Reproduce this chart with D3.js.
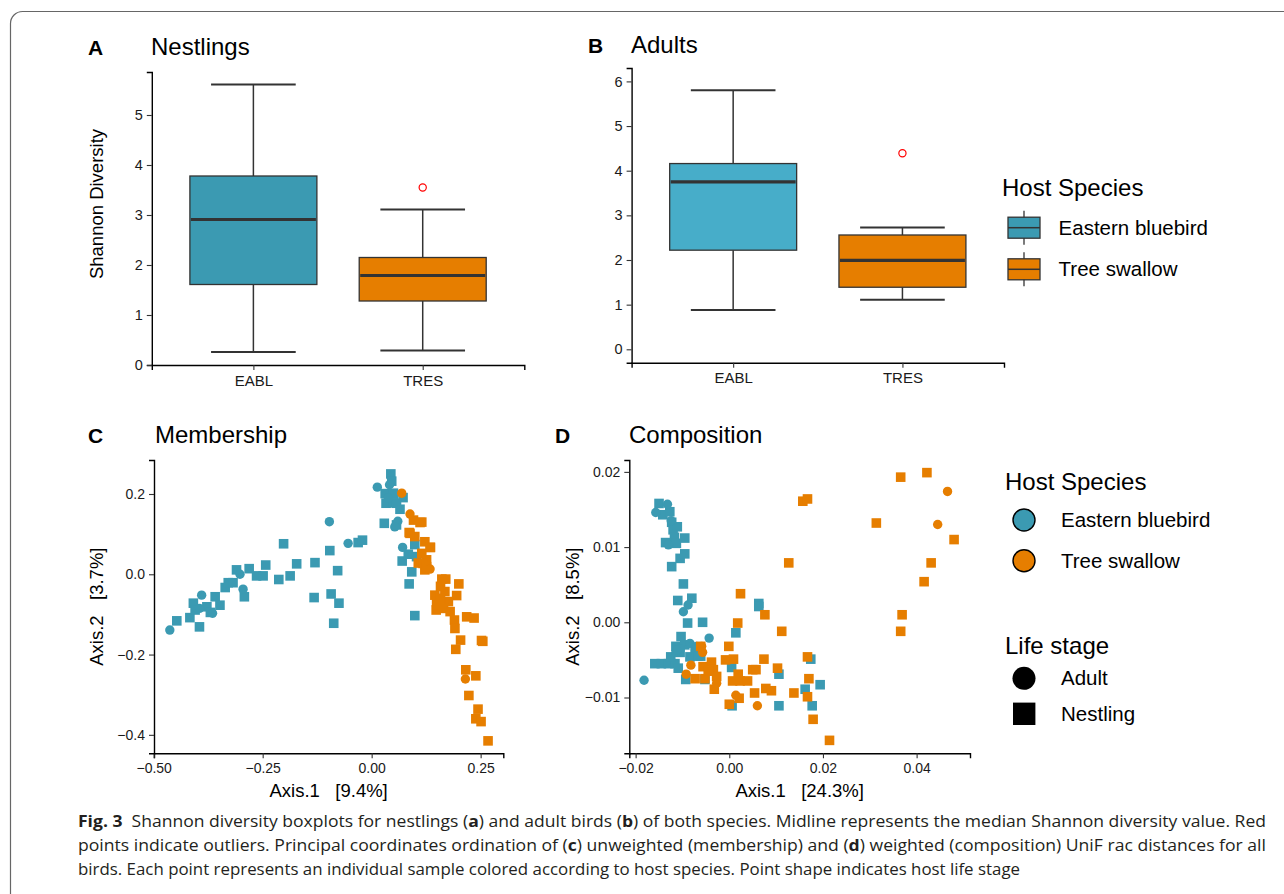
<!DOCTYPE html>
<html>
<head>
<meta charset="utf-8">
<script src="https://cdn.jsdelivr.net/npm/d3@7"></script>
<style>
  body { margin: 0; background: #fff; }
  svg { display: block; font-family: "Liberation Sans", Arial, Helvetica, sans-serif; }
</style>
</head>
<body>
<svg id="fig" width="1284" height="894"></svg>
<script>
// ---- data ----
const boxSpecies = ["EABL", "TRES"];
// [low whisker, Q1, median, Q3, high whisker]
const nestlingStats = [[0.26, 1.61, 2.91, 3.78, 5.61], [0.29, 1.28, 1.79, 2.15, 3.11]];
const nestlingOutliers = [[], [3.55]];
const adultStats = [[0.88, 2.22, 3.75, 4.16, 5.80], [1.11, 1.39, 1.99, 2.56, 2.73]];
const adultOutliers = [[], [4.39]];

const hostLabels = ["Eastern bluebird", "Tree swallow"];
const stageLabels = ["Adult", "Nestling"];

// membership (unweighted) PCoA
const memEablAdult = [[-0.463,-0.139],[-0.39,-0.052],[-0.395,-0.085],[-0.365,-0.097],[-0.302,0.0],[-0.295,-0.037],
  [-0.097,0.131],[-0.054,0.077],[0.013,0.217],[0.041,0.223],[0.06,0.132],[0.053,0.118],[0.071,0.067],[0.038,0.19]];
const memEablNestling = [[-0.447,-0.116],[-0.417,-0.108],[-0.395,-0.131],[-0.409,-0.072],[-0.405,-0.089],[-0.378,-0.081],
  [-0.37,-0.095],[-0.359,-0.056],[-0.348,-0.077],[-0.336,-0.033],[-0.329,-0.021],[-0.318,-0.021],[-0.31,0.011],
  [-0.292,-0.056],[-0.281,0.014],[-0.264,-0.004],[-0.249,-0.004],[-0.243,0.023],[-0.213,-0.013],[-0.202,0.076],
  [-0.187,-0.004],[-0.172,0.026],[-0.132,-0.058],[-0.13,0.029],[-0.096,0.059],[-0.093,-0.049],[-0.087,-0.122],
  [-0.078,0.009],[-0.075,-0.072],[-0.031,0.079],[-0.021,0.085],[0.029,0.127],[0.033,0.177],[0.031,0.201],
  [0.044,0.25],[0.046,0.232],[0.05,0.202],[0.05,0.178],[0.072,0.191],[0.065,0.162],[0.057,0.177],[0.057,0.123],
  [0.07,0.033],[0.092,0.006],[0.086,-0.024],[0.099,0.074],[0.103,0.044],[0.084,0.05],[0.099,-0.103]];
const memTresAdult = [[0.069,0.202],[0.088,0.15],[0.134,0.013],[0.215,-0.261]];
const memTresNestling = [[0.115,0.13],[0.096,0.135],[0.086,0.104],[0.099,0.094],[0.122,0.081],[0.135,0.067],
  [0.115,0.052],[0.126,0.036],[0.107,0.028],[0.122,0.011],[0.161,-0.012],[0.17,-0.012],[0.2,-0.024],[0.145,-0.052],
  [0.168,-0.043],[0.195,-0.053],[0.149,-0.068],[0.176,-0.068],[0.148,-0.089],[0.18,-0.093],[0.19,-0.114],
  [0.191,-0.135],[0.218,-0.106],[0.235,-0.109],[0.204,-0.164],[0.193,-0.187],[0.252,-0.165],[0.255,-0.167],
  [0.216,-0.238],[0.239,-0.253],[0.223,-0.302],[0.244,-0.336],[0.239,-0.36],[0.251,-0.367],[0.267,-0.415],
  [0.158,-0.03],[0.158,-0.06],[0.111,0.129],[0.088,0.102],[0.134,0.067],[0.118,0.027],[0.126,0.019],
  [0.155,-0.075],[0.165,-0.085]];

// composition (weighted) PCoA
const comEablAdult = [[-0.0182,-0.0077],[-0.0157,0.0146],[-0.0132,0.0157],[-0.013,0.0103],[-0.0098,0.0014],
  [-0.0088,0.0023],[-0.0043,-0.0021],[-0.0084,-0.0028],[-0.0105,-0.0035],[-0.0114,-0.004],[-0.0124,0.0135],
  [-0.0112,-0.0037],[-0.007,-0.0032]];
const comEablNestling = [[-0.015,0.0158],[-0.0142,0.0143],[-0.0127,0.0147],[-0.0123,0.0133],[-0.012,0.0123],
  [-0.0111,0.0127],[-0.0117,0.0113],[-0.0136,0.0106],[-0.0113,0.0105],[-0.0095,0.0112],[-0.0123,0.0074],
  [-0.0105,0.0085],[-0.0095,0.0091],[-0.0098,0.0051],[-0.011,0.0029],[-0.008,0.0032],[-0.0089,-0.0001],
  [-0.0057,0.0],[0.0063,0.0025],[0.0063,0.0021],[0.0014,-0.0014],[-0.0103,-0.0019],[-0.0114,-0.0032],
  [-0.0105,-0.004],[-0.0159,-0.0055],[-0.0145,-0.0055],[-0.013,-0.0055],[-0.0116,-0.0055],[-0.0095,-0.003],
  [-0.0073,-0.0037],[-0.0084,-0.0046],[-0.0061,-0.0045],[-0.0109,-0.0061],[-0.0093,-0.0076],[-0.0052,-0.0076],
  [0.0005,-0.006],[0.0106,-0.0069],[0.0162,-0.0089],[0.0174,-0.0049],[0.0194,-0.0083],[0.0177,-0.0111],
  [0.0106,-0.0111],[0.0006,-0.0111],[-0.0067,-0.0045],[-0.0125,-0.0046]];
const comTresAdult = [[-0.0027,-0.0081],[0.0014,-0.0097],[0.006,-0.0111],[0.0445,0.013],[0.0466,0.0174],
  [-0.0059,-0.0032],[-0.0057,-0.004],[-0.0082,-0.0057],[-0.0092,-0.0069]];
const comTresNestling = [[0.0422,0.0199],[0.0366,0.0193],[0.0157,0.0161],[0.0167,0.0164],[0.0314,0.0132],
  [0.048,0.011],[0.0127,0.0079],[0.0431,0.0079],[0.0416,0.0054],[0.0024,0.0038],[0.0076,0.001],[0.0369,0.001],
  [0.0018,-0.0001],[0.0112,-0.0012],[0.0366,-0.0012],[-0.0001,-0.0032],[-0.0008,-0.005],[0.0009,-0.0049],
  [0.0074,-0.0049],[0.0103,-0.0061],[0.0167,-0.0046],[0.017,-0.0075],[0.0167,-0.0099],[0.0179,-0.0129],
  [0.0214,-0.0157],[0.005,-0.0063],[0.0057,-0.0063],[0.0019,-0.0069],[0.0007,-0.0078],[0.0023,-0.0078],
  [0.0039,-0.0078],[0.0054,-0.0094],[0.0078,-0.0088],[0.009,-0.0091],[0.0138,-0.0094],[0.0021,-0.0101],
  [0.0,-0.0109],[-0.0038,-0.0053],[-0.0056,-0.0059],[-0.0034,-0.0063],[-0.0073,-0.0075],[-0.0052,-0.0075],
  [-0.0027,-0.0072],[-0.0032,-0.0089],[-0.0061,-0.0032],[-0.0045,-0.0065]];

const blue = "#3b9ab2", blueLight = "#47adc9", orange = "#e67e00";

const svg = d3.select("#fig");

// outer frame (runs off the right/bottom edge)
svg.append("rect")
  .attr("x", 10.5).attr("y", 11.5).attr("width", 1320).attr("height", 930).attr("rx", 12)
  .attr("fill", "none").attr("stroke", "#666").attr("stroke-width", 1.2);

function styleAxis(g, size) {
  g.attr("font-family", null).attr("font-size", null);
  g.select(".domain").attr("stroke", "#000").attr("stroke-width", 1.4);
  g.selectAll(".tick line").attr("stroke", "#333").attr("stroke-width", 1.1);
  g.selectAll(".tick text").attr("fill", "#1a1a1a").style("font-size", size + "px");
}

function panelTitle(letter, lx, title, tx, y) {
  svg.append("text").attr("x", lx).attr("y", y).text(letter)
    .style("font-size", "21px").style("font-weight", "bold").attr("fill", "#000");
  svg.append("text").attr("x", tx).attr("y", y).text(title)
    .style("font-size", "24px").attr("fill", "#000");
}

function boxPanel(o) {
  const g = svg.append("g");
  const x = d3.scalePoint().domain(boxSpecies).range([o.x0, o.x1]).padding(0.6);
  const y = d3.scaleLinear().domain(o.domain).range([o.yBot, o.yTop]);
  const bw = x.step() * 0.75, cw = x.step() * 0.5;

  boxSpecies.forEach((sp, i) => {
    const [lo, q1, med, q3, hi] = o.stats[i];
    const cx = x(sp);
    const wg = g.append("g").attr("stroke", "#333").attr("stroke-width", 1.5);
    wg.append("line").attr("x1", cx).attr("x2", cx).attr("y1", y(hi)).attr("y2", y(q3));
    wg.append("line").attr("x1", cx).attr("x2", cx).attr("y1", y(q1)).attr("y2", y(lo));
    wg.append("line").attr("x1", cx - cw / 2).attr("x2", cx + cw / 2).attr("y1", y(hi)).attr("y2", y(hi)).attr("stroke-width", 2);
    wg.append("line").attr("x1", cx - cw / 2).attr("x2", cx + cw / 2).attr("y1", y(lo)).attr("y2", y(lo)).attr("stroke-width", 2);
    g.append("rect").attr("x", cx - bw / 2).attr("width", bw)
      .attr("y", y(q3)).attr("height", y(q1) - y(q3))
      .attr("fill", o.fills[i]).attr("stroke", "#333").attr("stroke-width", 1.3);
    g.append("line").attr("x1", cx - bw / 2 + 1).attr("x2", cx + bw / 2 - 1)
      .attr("y1", y(med)).attr("y2", y(med)).attr("stroke", "#333").attr("stroke-width", 3.2);
    o.outliers[i].forEach(v => {
      g.append("circle").attr("cx", cx).attr("cy", y(v)).attr("r", 3.6)
        .attr("fill", "none").attr("stroke", "#f00").attr("stroke-width", 1.2);
    });
  });

  g.append("g").attr("transform", `translate(0,${o.yBot})`)
    .call(d3.axisBottom(x).tickSize(5).tickPadding(5))
    .call(a => styleAxis(a, 15));
  g.append("g").attr("transform", `translate(${o.x0},0)`)
    .call(d3.axisLeft(y).tickValues(o.ticks).tickFormat(d3.format("d")).tickSize(5).tickPadding(4))
    .call(a => styleAxis(a, 14.5));
}

function scatterPanel(o) {
  const g = svg.append("g");
  const x = d3.scaleLinear().domain(o.xDomain).range([o.x0, o.x1]);
  const y = d3.scaleLinear().domain(o.yDomain).range([o.yBot, o.yTop]);
  const s = 9.6, r = 4.7;
  o.groups.forEach(grp => {
    const gg = g.append("g").attr("fill", grp.color);
    if (grp.shape === "square") {
      gg.selectAll("rect").data(grp.pts).join("rect")
        .attr("x", d => x(d[0]) - s / 2).attr("y", d => y(d[1]) - s / 2)
        .attr("width", s).attr("height", s);
    } else {
      gg.selectAll("circle").data(grp.pts).join("circle")
        .attr("cx", d => x(d[0])).attr("cy", d => y(d[1])).attr("r", r);
    }
  });
  g.append("g").attr("transform", `translate(0,${o.yBot})`)
    .call(d3.axisBottom(x).tickValues(o.xTicks).tickFormat(d3.format(o.xFmt)).tickSize(5).tickPadding(5))
    .call(a => styleAxis(a, 14));
  g.append("g").attr("transform", `translate(${o.x0},0)`)
    .call(d3.axisLeft(y).tickValues(o.yTicks).tickFormat(d3.format(o.yFmt)).tickSize(5).tickPadding(4))
    .call(a => styleAxis(a, 14));
  g.append("text").attr("x", (o.x0 + o.x1) / 2).attr("y", 797).attr("text-anchor", "middle")
    .style("font-size", "18.5px").style("white-space", "pre").text(o.xLabel);
  g.append("text").attr("transform", `translate(${o.yLabelX},${(o.yTop + o.yBot) / 2}) rotate(-90)`)
    .attr("text-anchor", "middle").style("font-size", "18.5px").style("white-space", "pre").text(o.yLabel);
}

// ---- A: Nestlings ----
panelTitle("A", 88, "Nestlings", 151, 55);
boxPanel({ stats: nestlingStats, outliers: nestlingOutliers, fills: [blue, orange],
  x0: 151.8, x1: 524.3, yTop: 72, yBot: 365, domain: [0, 5.86], ticks: [0, 1, 2, 3, 4, 5] });
svg.append("text").attr("transform", "translate(103,204) rotate(-90)").attr("text-anchor", "middle")
  .style("font-size", "18.5px").text("Shannon Diversity");

// ---- B: Adults ----
panelTitle("B", 588, "Adults", 631, 53);
boxPanel({ stats: adultStats, outliers: adultOutliers, fills: [blueLight, orange],
  x0: 631.6, x1: 1004, yTop: 68, yBot: 362.7, domain: [-0.3, 6.3], ticks: [0, 1, 2, 3, 4, 5, 6] });

// legend for boxplots
const lgB = svg.append("g");
lgB.append("text").attr("x", 1002).attr("y", 196).style("font-size", "24px").text("Host Species");
hostLabels.forEach((lab, i) => {
  const cy = 227.7 + i * 41.6;
  lgB.append("line").attr("x1", 1024).attr("x2", 1024).attr("y1", cy - 17).attr("y2", cy + 17)
    .attr("stroke", "#333").attr("stroke-width", 1.3);
  lgB.append("rect").attr("x", 1008).attr("y", cy - 10.5).attr("width", 32).attr("height", 21)
    .attr("fill", [blue, orange][i]).attr("stroke", "#333").attr("stroke-width", 1.3);
  lgB.append("line").attr("x1", 1008).attr("x2", 1040).attr("y1", cy).attr("y2", cy)
    .attr("stroke", "#333").attr("stroke-width", 1.5);
  lgB.append("text").attr("x", 1058.6).attr("y", cy).attr("dy", "0.35em").style("font-size", "20.5px").text(lab);
});

// ---- C: Membership ----
panelTitle("C", 88, "Membership", 155, 443);
scatterPanel({
  x0: 154, x1: 503.3, yTop: 460, yBot: 753.3,
  xDomain: [-0.4993, 0.302], yDomain: [-0.446, 0.2847],
  xTicks: [-0.5, -0.25, 0, 0.25], yTicks: [-0.4, -0.2, 0, 0.2], xFmt: ".2f", yFmt: ".1f",
  xLabel: "Axis.1   [9.4%]", yLabel: "Axis.2   [3.7%]", yLabelX: 103,
  groups: [
    { pts: memEablNestling, color: blue, shape: "square" },
    { pts: memEablAdult, color: blue, shape: "circle" },
    { pts: memTresNestling, color: orange, shape: "square" },
    { pts: memTresAdult, color: orange, shape: "circle" }
  ]
});

// ---- D: Composition ----
panelTitle("D", 555, "Composition", 629, 443);
scatterPanel({
  x0: 629.3, x1: 970, yTop: 460, yBot: 753.3,
  xDomain: [-0.02135, 0.0514], yDomain: [-0.01742, 0.02158],
  xTicks: [-0.02, 0, 0.02, 0.04], yTicks: [-0.01, 0, 0.01, 0.02], xFmt: ".2f", yFmt: ".2f",
  xLabel: "Axis.1   [24.3%]", yLabel: "Axis.2   [8.5%]", yLabelX: 579,
  groups: [
    { pts: comEablNestling, color: blue, shape: "square" },
    { pts: comEablAdult, color: blue, shape: "circle" },
    { pts: comTresNestling, color: orange, shape: "square" },
    { pts: comTresAdult, color: orange, shape: "circle" }
  ]
});

// legend for ordinations
const lgC = svg.append("g");
lgC.append("text").attr("x", 1005).attr("y", 490).style("font-size", "24px").text("Host Species");
hostLabels.forEach((lab, i) => {
  const cy = 520 + i * 40.7;
  lgC.append("circle").attr("cx", 1024).attr("cy", cy).attr("r", 11)
    .attr("fill", [blue, orange][i]).attr("stroke", "#000").attr("stroke-width", 1.4);
  lgC.append("text").attr("x", 1061).attr("y", cy).attr("dy", "0.35em").style("font-size", "20.5px").text(lab);
});
lgC.append("text").attr("x", 1005).attr("y", 654).style("font-size", "24px").text("Life stage");
stageLabels.forEach((lab, i) => {
  const cy = 678.3 + i * 35.5;
  if (i === 0) lgC.append("circle").attr("cx", 1024).attr("cy", cy).attr("r", 11.5).attr("fill", "#000");
  else lgC.append("rect").attr("x", 1013).attr("y", cy - 11.2).attr("width", 22.4).attr("height", 22.4).attr("fill", "#000");
  lgC.append("text").attr("x", 1061).attr("y", cy).attr("dy", "0.35em").style("font-size", "20.5px").text(lab);
});

// ---- caption ----
const captionLines = [
  { parts: [["Fig. 3", true], ["  Shannon diversity boxplots for nestlings (", false], ["a", true], [") and adult birds (", false], ["b", true], [") of both species. Midline represents the median Shannon diversity value. Red", false]], width: 1188 },
  { parts: [["points indicate outliers. Principal coordinates ordination of (", false], ["c", true], [") unweighted (membership) and (", false], ["d", true], [") weighted (composition) UniF rac distances for all", false]], width: 1188 },
  { parts: [["birds. Each point represents an individual sample colored according to host species. Point shape indicates host life stage", false]], width: 942 }
];
const cap = svg.append("g").style("font-family", "'Open Sans', 'Noto Sans', sans-serif").style("font-size", "15.5px").attr("fill", "#231f20");
captionLines.forEach((ln, i) => {
  const t = cap.append("text").attr("x", 78).attr("y", 827 + i * 24)
    .attr("textLength", ln.width).attr("lengthAdjust", "spacingAndGlyphs").style("white-space", "pre");
  ln.parts.forEach(([s, b]) => t.append("tspan").style("font-weight", b ? "bold" : "normal").text(s));
});
</script>
</body>
</html>
